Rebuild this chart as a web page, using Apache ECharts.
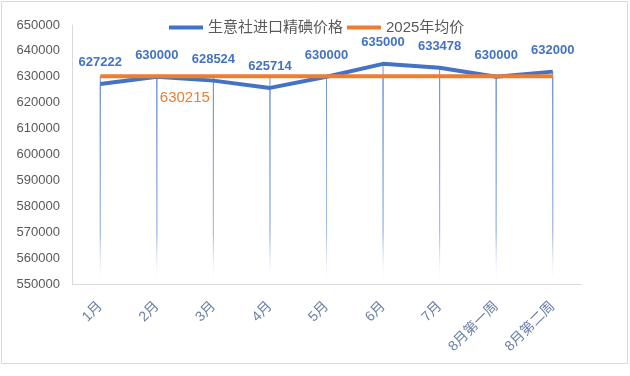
<!DOCTYPE html>
<html>
<head>
<meta charset="utf-8">
<script src="https://cdn.jsdelivr.net/npm/echarts@6/dist/echarts.min.js"></script>
<style>
  html, body { margin: 0; padding: 0; background: #fff; }
  #main { width: 630px; height: 376px; }
</style>
</head>
<body>
<div id="main"></div>
<script>
var categories = ['1月', '2月', '3月', '4月', '5月', '6月', '7月', '8月第一周', '8月第二周'];
var prices = [627222, 630000, 628524, 625714, 630000, 635000, 633478, 630000, 632000];
var avgPrice = [630215, 630215, 630215, 630215, 630215, 630215, 630215, 630215, 630215];
var yTicks = { min: 550000, max: 650000, step: 10000 };

var chart = echarts.init(document.getElementById('main'));
var font = 'Liberation Sans, Noto Sans CJK SC, sans-serif';

// 垂线渐变
var dropColor = new echarts.graphic.LinearGradient(0, 0, 0, 1, [
  { offset: 0, color: '#6f93d6' },
  { offset: 0.75, color: '#a9bfe8' },
  { offset: 1, color: 'rgba(255,255,255,0)' }
]);

var option = {
  animation: false,
  textStyle: { fontFamily: font },
  graphic: [{
    type: 'rect',
    shape: { x: 1.5, y: 1.5, width: 626, height: 362 },
    style: { fill: 'none', stroke: '#d9d9d9', lineWidth: 1 },
    silent: true
  }],
  legend: {
    top: 15,
    left: 164,
    itemWidth: 34,
    itemHeight: 4,
    itemGap: 4,
    icon: 'rect',
    data: ['生意社进口精碘价格', '2025年均价'],
    textStyle: { fontSize: 15, color: '#595959', fontFamily: font }
  },
  grid: {
    left: 72,
    right: 49,
    top: 25,
    bottom: 92
  },
  xAxis: {
    type: 'category',
    data: categories,
    axisTick: { show: false },
    axisLine: { lineStyle: { color: '#d9d9d9' } },
    axisLabel: {
      rotate: 45,
      margin: 20,
      fontSize: 14,
      color: '#6a7fa8'
    }
  },
  yAxis: {
    type: 'value',
    min: yTicks.min,
    max: yTicks.max,
    interval: yTicks.step,
    splitLine: { show: false },
    axisTick: { show: false },
    axisLine: { show: true, lineStyle: { color: '#d9d9d9' } },
    axisLabel: {
      margin: 12,
      fontSize: 13,
      color: '#595959',
      formatter: function (v) { return String(v); }
    }
  },
  series: [{
    name: 'drop1',
    type: 'bar',
    data: prices,
    barWidth: 1,
    barGap: '-100%',
    clip: true,
    z: 1,
    itemStyle: { color: dropColor }
  }, {
    name: 'drop2',
    type: 'bar',
    data: avgPrice,
    barWidth: 1,
    clip: true,
    z: 1,
    itemStyle: { color: dropColor }
  }, {
    name: '生意社进口精碘价格',
    type: 'line',
    data: prices,
    symbol: 'circle',
    symbolSize: 0.01,
    z: 3,
    lineStyle: { color: '#4472C4', width: 4 },
    itemStyle: { color: '#4472C4' },
    label: {
      show: true,
      position: 'top',
      distance: 15,
      fontSize: 13,
      fontWeight: 'bold',
      color: '#4472C4'
    }
  }, {
    name: '2025年均价',
    type: 'line',
    data: avgPrice.map(function (v, i) {
      return i === 1 ? { value: v, label: { show: true } } : v;
    }),
    symbol: 'circle',
    symbolSize: 0.01,
    z: 4,
    lineStyle: { color: '#ED7D31', width: 4 },
    itemStyle: { color: '#ED7D31' },
    label: {
      show: false,
      position: 'bottom',
      distance: 5,
      offset: [28, 9],
      fontSize: 15,
      color: '#ED7D31'
    }
  }]
};
chart.setOption(option);
</script>
</body>
</html>
